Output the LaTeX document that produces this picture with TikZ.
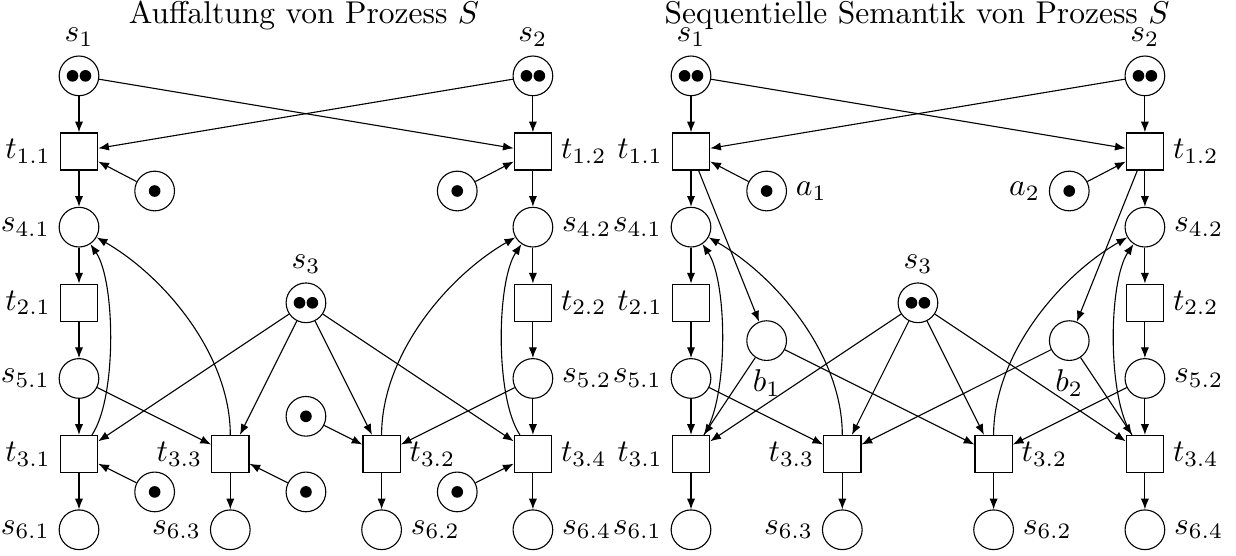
\documentclass[tikz,border=0pt]{standalone}
\usetikzlibrary{arrows.meta}
\tikzset{
 place/.style={circle, draw, line width=0.35pt, minimum size=12.6pt, inner sep=0pt},
 trans/.style={rectangle, draw, line width=0.4pt, minimum size=11.8pt, inner sep=0pt},
 arc/.style={-{Latex[length=3.4pt,width=2.6pt]}, line width=0.35pt},
 cl/.style={looseness=0.6},
 cf/.style={looseness=0.85}
}
\newcommand\tokOne[1]{\fill (#1.center) circle (1.85pt);}
\newcommand\tokTwo[1]{\fill ([xshift=-2.05pt]#1.center) circle (1.85pt); \fill ([xshift=2.05pt]#1.center) circle (1.85pt);}
\begin{document}
\begin{tikzpicture}[x=0.3175pt,y=0.3175pt,label distance=-0.7pt]
\useasboundingbox (0,0) rectangle (1236,-555);
% ================= left half =================
\node[anchor=base] (Ltitle) at (304,-23.5) {Auffaltung von Prozess $S$};
\node[place,label=above:$s_1$] (Ls1) at (79,-75.85) {};
\node[place,label=above:$s_2$] (Ls2) at (532.9,-75.85) {};
\node[trans,label=left:$t_{1.1}$] (Lt11) at (79,-151.5) {};
\node[trans,label=right:$t_{1.2}$] (Lt12) at (532.9,-151.5) {};
\node[place] (Lp1) at (154.65,-191) {};
\node[place] (Lp2) at (457.25,-191) {};
\node[place,label=left:$s_{4.1}$] (Ls41) at (79,-227.15) {};
\node[place,label=right:$s_{4.2}$] (Ls42) at (532.9,-227.15) {};
\node[place,label=above:$s_3$] (Ls3) at (305.95,-302.8) {};
\node[trans,label=left:$t_{2.1}$] (Lt21) at (79,-302.8) {};
\node[trans,label=right:$t_{2.2}$] (Lt22) at (532.9,-302.8) {};
\node[place,label=left:$s_{5.1}$] (Ls51) at (79,-378.45) {};
\node[place,label=right:$s_{5.2}$] (Ls52) at (532.9,-378.45) {};
\node[place] (Lp3) at (305.95,-416.3) {};
\node[trans,label=left:$t_{3.1}$] (Lt31) at (79,-454.1) {};
\node[trans,label=left:$t_{3.3}$] (Lt33) at (230.3,-454.1) {};
\node[trans,label=right:$t_{3.2}$] (Lt32) at (381.6,-454.1) {};
\node[trans,label=right:$t_{3.4}$] (Lt34) at (532.9,-454.1) {};
\node[place] (Lp4) at (154.65,-491.9) {};
\node[place] (Lp5) at (305.95,-491.9) {};
\node[place] (Lp6) at (457.25,-491.9) {};
\node[place,label=left:$s_{6.1}$] (Ls61) at (79,-529.75) {};
\node[place,label=left:$s_{6.3}$] (Ls63) at (230.3,-529.75) {};
\node[place,label=right:$s_{6.2}$] (Ls62) at (381.6,-529.75) {};
\node[place,label=right:$s_{6.4}$] (Ls64) at (532.9,-529.75) {};
\tokTwo{Ls1}\tokTwo{Ls2}\tokTwo{Ls3}
\tokOne{Lp1}\tokOne{Lp2}\tokOne{Lp3}\tokOne{Lp4}\tokOne{Lp5}\tokOne{Lp6}
\draw[arc] (Ls1) -- (Lt11);
\draw[arc] (Ls1) -- (Lt12);
\draw[arc] (Ls2) -- (Lt11);
\draw[arc] (Ls2) -- (Lt12);
\draw[arc] (Lp1) -- (Lt11);
\draw[arc] (Lp2) -- (Lt12);
\draw[arc] (Lt11) -- (Ls41);
\draw[arc] (Lt12) -- (Ls42);
\draw[arc] (Ls41) -- (Lt21);
\draw[arc] (Ls42) -- (Lt22);
\draw[arc] (Lt21) -- (Ls51);
\draw[arc] (Lt22) -- (Ls52);
\draw[arc] (Ls51) -- (Lt31);
\draw[arc] (Ls52) -- (Lt34);
\draw[arc] (Ls51) -- (Lt33);
\draw[arc] (Ls52) -- (Lt32);
\draw[arc] (Ls3) -- (Lt31);
\draw[arc] (Ls3) -- (Lt33);
\draw[arc] (Ls3) -- (Lt32);
\draw[arc] (Ls3) -- (Lt34);
\draw[arc] (Lp3) -- (Lt32);
\draw[arc] (Lp4) -- (Lt31);
\draw[arc] (Lp5) -- (Lt33);
\draw[arc] (Lp6) -- (Lt34);
\draw[arc] (Lt31) -- (Ls61);
\draw[arc] (Lt33) -- (Ls63);
\draw[arc] (Lt32) -- (Ls62);
\draw[arc] (Lt34) -- (Ls64);
\draw[arc] (Lt31) to[out=56,in=-56,cl] (Ls41);
\draw[arc] (Lt33) to[out=90,in=-30,cf] (Ls41);
\draw[arc] (Lt32) to[out=90,in=210,cf] (Ls42);
\draw[arc] (Lt34) to[out=124,in=236,cl] (Ls42);
% ================= right half =================
\node[anchor=base] (Rtitle) at (917,-23.5) {Sequentielle Semantik von Prozess $S$};
\node[place,label=above:$s_1$] (Rs1) at (691,-75.85) {};
\node[place,label=above:$s_2$] (Rs2) at (1144.9,-75.85) {};
\node[trans,label=left:$t_{1.1}$] (Rt11) at (691,-151.5) {};
\node[trans,label=right:$t_{1.2}$] (Rt12) at (1144.9,-151.5) {};
\node[place,label=right:$a_1$] (Ra1) at (766.65,-191) {};
\node[place,label=left:$a_2$] (Ra2) at (1069.25,-191) {};
\node[place,label=left:$s_{4.1}$] (Rs41) at (691,-227.15) {};
\node[place,label=right:$s_{4.2}$] (Rs42) at (1144.9,-227.15) {};
\node[place,label=above:$s_3$] (Rs3) at (917.95,-302.8) {};
\node[trans,label=left:$t_{2.1}$] (Rt21) at (691,-302.8) {};
\node[trans,label=right:$t_{2.2}$] (Rt22) at (1144.9,-302.8) {};
\node[place,label=below:$b_1$] (Rb1) at (766.65,-340.6) {};
\node[place,label=below:$b_2$] (Rb2) at (1069.25,-340.6) {};
\node[place,label=left:$s_{5.1}$] (Rs51) at (691,-378.45) {};
\node[place,label=right:$s_{5.2}$] (Rs52) at (1144.9,-378.45) {};
\node[trans,label=left:$t_{3.1}$] (Rt31) at (691,-454.1) {};
\node[trans,label=left:$t_{3.3}$] (Rt33) at (842.3,-454.1) {};
\node[trans,label=right:$t_{3.2}$] (Rt32) at (993.6,-454.1) {};
\node[trans,label=right:$t_{3.4}$] (Rt34) at (1144.9,-454.1) {};
\node[place,label=left:$s_{6.1}$] (Rs61) at (691,-529.75) {};
\node[place,label=left:$s_{6.3}$] (Rs63) at (842.3,-529.75) {};
\node[place,label=right:$s_{6.2}$] (Rs62) at (993.6,-529.75) {};
\node[place,label=right:$s_{6.4}$] (Rs64) at (1144.9,-529.75) {};
\tokTwo{Rs1}\tokTwo{Rs2}\tokTwo{Rs3}
\tokOne{Ra1}\tokOne{Ra2}
\draw[arc] (Rs1) -- (Rt11);
\draw[arc] (Rs1) -- (Rt12);
\draw[arc] (Rs2) -- (Rt11);
\draw[arc] (Rs2) -- (Rt12);
\draw[arc] (Ra1) -- (Rt11);
\draw[arc] (Ra2) -- (Rt12);
\draw[arc] (Rt11) -- (Rs41);
\draw[arc] (Rt12) -- (Rs42);
\draw[arc] (Rt11) -- (Rb1);
\draw[arc] (Rt12) -- (Rb2);
\draw[arc] (Rs41) -- (Rt21);
\draw[arc] (Rs42) -- (Rt22);
\draw[arc] (Rt21) -- (Rs51);
\draw[arc] (Rt22) -- (Rs52);
\draw[arc] (Rs51) -- (Rt31);
\draw[arc] (Rs52) -- (Rt34);
\draw[arc] (Rs51) -- (Rt33);
\draw[arc] (Rs52) -- (Rt32);
\draw[arc] (Rb1) -- (Rt31);
\draw[arc] (Rb1) -- (Rt32);
\draw[arc] (Rb2) -- (Rt33);
\draw[arc] (Rb2) -- (Rt34);
\draw[arc] (Rs3) -- (Rt31);
\draw[arc] (Rs3) -- (Rt33);
\draw[arc] (Rs3) -- (Rt32);
\draw[arc] (Rs3) -- (Rt34);
\draw[arc] (Rt31) -- (Rs61);
\draw[arc] (Rt33) -- (Rs63);
\draw[arc] (Rt32) -- (Rs62);
\draw[arc] (Rt34) -- (Rs64);
\draw[arc] (Rt31) to[out=56,in=-56,cl] (Rs41);
\draw[arc] (Rt33) to[out=90,in=-30,cf] (Rs41);
\draw[arc] (Rt32) to[out=90,in=210,cf] (Rs42);
\draw[arc] (Rt34) to[out=124,in=236,cl] (Rs42);
\end{tikzpicture}
\end{document}
